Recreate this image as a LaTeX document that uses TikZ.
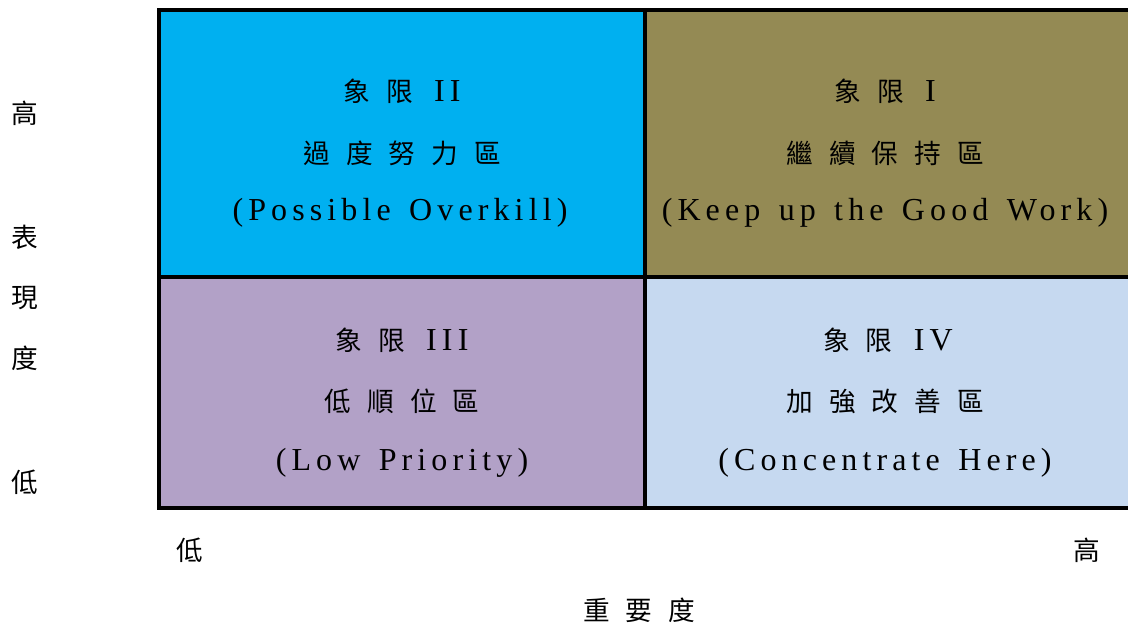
\documentclass[tikz,border=0pt]{standalone}
\usepackage{fontspec}
\setmainfont{Liberation Serif}[LetterSpace=16,WordSpace=1.4]
\newfontfamily\cjk{Noto Sans CJK TC}[LetterSpace=60]
\usetikzlibrary{positioning}
\definecolor{quadI}{HTML}{948A54}
\definecolor{quadII}{HTML}{00B0F0}
\definecolor{quadIII}{HTML}{B2A1C7}
\definecolor{quadIV}{HTML}{C6D9F0}
\newcommand{\quadname}[1]{{\cjk\fontsize{20}{24}\selectfont 象限}\hspace{16pt}#1}

\begin{document}
\begin{tikzpicture}[x=0.75pt,y=-0.75pt]
  \tikzset{
    lat/.style={inner sep=0pt,font=\fontsize{24}{28}\selectfont},
    han/.style={inner sep=0pt,font=\cjk\fontsize{20}{24}\selectfont},
    grid/.style={line width=3pt}
  }
  \useasboundingbox (0,0) rectangle (1128,626);
  \clip (0,0) rectangle (1128,626);

  % corners of the grid
  \coordinate (NW) at (159,10);
  \coordinate (N) at (645,10);
  \coordinate (NE) at (1131,10);
  \coordinate (W) at (159,277);
  \coordinate (C) at (645,277);
  \coordinate (E) at (1131,277);
  \coordinate (SW) at (159,508);
  \coordinate (S) at (645,508);
  \coordinate (SE) at (1131,508);

  \fill[quadII] (NW) rectangle (C);
  \fill[quadI] (N) rectangle (E);
  \fill[quadIII] (W) rectangle (S);
  \fill[quadIV] (C) rectangle (SE);
  \draw[grid] (NW) rectangle (SE);
  \draw[grid] (N) -- (S);
  \draw[grid] (W) -- (E);

  % quadrant II
  \node[lat] (q2a) at (402,91) {\quadname{II}};
  \node[han] (q2b) at (402,153) {過度努力區};
  \node[lat] (q2c) at (400,213) {(Possible Overkill)};
  % quadrant I
  \node[lat] (q1a) at (885,91) {\quadname{I}};
  \node[han] (q1b) at (885,153) {繼續保持區};
  \node[lat] (q1c) at (885,213) {(Keep up the Good Work)};
  % quadrant III
  \node[lat] (q3a) at (402,340) {\quadname{III}};
  \node[han] (q3b) at (402,401) {低順位區};
  \node[lat] (q3c) at (402,463) {(Low Priority)};
  % quadrant IV
  \node[lat] (q4a) at (888,340) {\quadname{IV}};
  \node[han] (q4b) at (885,401) {加強改善區};
  \node[lat] (q4c) at (885,463) {(Concentrate Here)};

  % axis labels
  \node[han] (yhi) at (25,113) {高};
  \node[han] (ya) at (25,237) {表};
  \node[han] (yb) at (25,298) {現};
  \node[han] (yc) at (25,358) {度};
  \node[han] (ylo) at (25,482) {低};
  \node[han] (xlo) at (190,550) {低};
  \node[han] (xhi) at (1087,550) {高};
  \node[han] (xname) at (639,610) {重要度};
\end{tikzpicture}
\end{document}
